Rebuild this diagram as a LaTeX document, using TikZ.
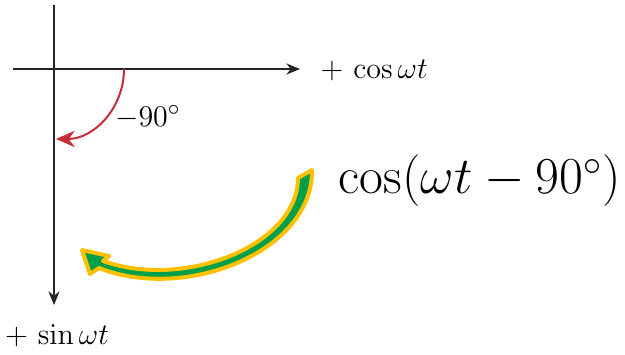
\documentclass[tikz,border=0pt]{standalone}
\usetikzlibrary{arrows.meta}
\definecolor{arcred}{RGB}{200,45,55}
\definecolor{arrowgreen}{RGB}{0,160,75}
\definecolor{arrowyellow}{RGB}{255,192,0}

\begin{document}
\begin{tikzpicture}[x=0.4pt, y=-0.4pt,
    axis/.style={-{Stealth[length=5.5pt,width=4.5pt]}, line width=0.6pt, black!85},
    lbl/.style={font=\fontsize{11.5}{13}\selectfont, inner sep=0pt}]
    \useasboundingbox (0,0) rectangle (625,354);
    % Axes
    \coordinate (O) at (54,69);
    \coordinate (xl) at (13,69);
    \coordinate (xr) at (300,69);
    \coordinate (yt) at (54,5);
    \coordinate (yb) at (54,305);
    \draw[axis] (xl) -- (xr);
    \draw[axis] (yt) -- (yb);
    \node[lbl, anchor=west] (cosl) at (320,70) {$+\,\cos\omega t$};
    \node[lbl] (sinl) at (57,336) {$+\,\sin\omega t$};
    % Phase shift
    \coordinate (a0) at (124,69);
    \coordinate (a1) at (56,139);
    \draw[arcred, line width=0.8pt, -{Stealth[length=7.5pt,width=6.5pt]}]
        (a0) .. controls (124,108) and (94,139) .. (a1);
    \node[lbl, font=\fontsize{12.5}{14}\selectfont] (phase) at (148,117) {$-90^\circ$};
    % Shifted cosine
    \node[font=\fontsize{20.5}{24}\selectfont, inner sep=0pt] (shift) at (480,181)
        {$\cos(\omega t-90^\circ)$};
    \filldraw[fill=arrowgreen, draw=arrowyellow, line width=1.6pt, line join=round]
        (312,170) .. controls (313,252) and (185,302) .. (99,268)
        -- (90,274) -- (82,250) -- (109,256) -- (103,261)
        .. controls (185,290) and (298,245) .. (298,178) -- cycle;
\end{tikzpicture}
\end{document}
